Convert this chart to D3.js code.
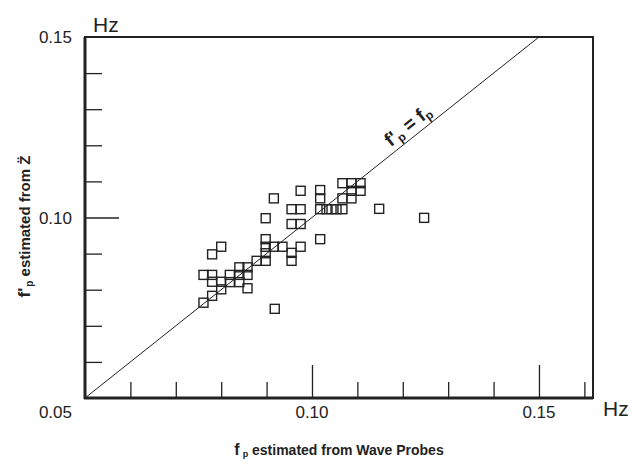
<!DOCTYPE html>
<html><head><meta charset="utf-8">
<script src="https://cdn.jsdelivr.net/npm/d3@7"></script>
<style>body{margin:0;background:#fff}svg{display:block}</style>
</head><body>
<svg id="c" width="633" height="465"></svg>
<script>
// x: f_p estimated from Wave Probes (Hz), y: f'_p estimated from Z'' (Hz)
const fpWaveProbes = [0.0761,0.0780,0.0800,0.0780,0.0800,0.0761,0.0780,0.0819,0.0840,0.0858,
  0.0819,0.0840,0.0858,0.0840,0.0858,0.0800,0.0780,0.0878,0.0898,0.0898,
  0.0898,0.0898,0.0916,0.0935,0.0955,0.0955,0.0975,0.0898,0.0916,0.0955,
  0.0975,0.0975,0.0955,0.0975,0.1018,0.1018,0.1018,0.1018,0.1032,0.1043,
  0.1054,0.1067,0.1067,0.1087,0.1067,0.1087,0.1107,0.1087,0.1107,0.1148,
  0.1247,0.0918];
const fpZdd = [0.0764,0.0783,0.0801,0.0822,0.0822,0.0841,0.0841,0.0841,0.0841,0.0841,
  0.0821,0.0821,0.0804,0.0862,0.0862,0.0919,0.0898,0.0880,0.0880,0.0901,
  0.0919,0.0940,0.0919,0.0919,0.0902,0.0880,0.0919,0.0998,0.1053,0.1023,
  0.1023,0.1074,0.0982,0.0982,0.0940,0.1076,0.1053,0.1023,0.1023,0.1023,
  0.1023,0.1023,0.1053,0.1053,0.1095,0.1095,0.1095,0.1074,0.1074,0.1024,
  0.0999,0.0747];
const xMinorTicks = [0.06,0.07,0.08,0.09,0.11,0.12,0.13,0.14,0.16];
const xMajorTicks = [0.10,0.15];
const yMinorTicks = [0.06,0.07,0.08,0.09,0.11,0.12,0.13,0.14];
const yMajorTicks = [0.10];
const xTickLabels = [0.10,0.15];
const yTickLabels = [0.15,0.10];
const cornerLabel = 0.05;
const unitLabel = "Hz";
const identityLine = [0.05,0.15];

const font = '"Liberation Sans", Arial, Helvetica, sans-serif';
const svg = d3.select("#c");
const x = d3.scaleLinear().domain([0.05,0.1619]).range([85,593]);
const y = d3.scaleLinear().domain([0.05,0.15]).range([398,37]);
const fmt = d3.format(".2f");

// frame
const [x0,x1] = x.range(), [y0,y1] = y.range();
svg.append("rect").attr("x",x0).attr("y",y1).attr("width",x1-x0).attr("height",y0-y1)
  .attr("fill","none").attr("stroke","#222").attr("stroke-width",2);
svg.append("line").attr("x1",x0).attr("x2",x0).attr("y1",y1).attr("y2",y0+1)
  .attr("stroke","#222").attr("stroke-width",3);
svg.append("line").attr("x1",x0-1).attr("x2",x1).attr("y1",y0).attr("y2",y0)
  .attr("stroke","#222").attr("stroke-width",3);

function axisG(axis, tx, ty){
  const g = svg.append("g").attr("transform",`translate(${tx},${ty})`).call(axis);
  g.select(".domain").remove();
  g.selectAll(".tick line").attr("stroke","#222").attr("stroke-width",1.3);
  g.selectAll(".tick text").remove();
  return g;
}
axisG(d3.axisBottom(x).tickValues(xMinorTicks).tickSize(-16), 0, y0);
axisG(d3.axisBottom(x).tickValues(xMajorTicks).tickSize(-33), 0, y0);
axisG(d3.axisLeft(y).tickValues(yMinorTicks).tickSize(-17), x0, 0);
axisG(d3.axisLeft(y).tickValues(yMajorTicks).tickSize(-34), x0, 0);

// tick labels
svg.selectAll("text.xl").data(xTickLabels).join("text").attr("class","xl")
  .attr("x",d=>x(d)).attr("y",418).attr("text-anchor","middle")
  .attr("font-family",font).attr("font-size",17).attr("fill","#222").text(fmt);
svg.selectAll("text.yl").data(yTickLabels).join("text").attr("class","yl")
  .attr("x",72).attr("y",d=>y(d)+6).attr("text-anchor","end")
  .attr("font-family",font).attr("font-size",17).attr("fill","#222").text(fmt);
svg.append("text").attr("x",72).attr("y",418).attr("text-anchor","end")
  .attr("font-family",font).attr("font-size",17).attr("fill","#222").text(fmt(cornerLabel));
svg.append("text").attr("x",93).attr("y",32)
  .attr("font-family",font).attr("font-size",21).attr("fill","#222").text(unitLabel);
svg.append("text").attr("x",603).attr("y",416)
  .attr("font-family",font).attr("font-size",21).attr("fill","#222").text(unitLabel);

// identity line
svg.append("line").attr("x1",x(identityLine[0])).attr("y1",y(identityLine[0]))
  .attr("x2",x(identityLine[1])).attr("y2",y(identityLine[1]))
  .attr("stroke","#222").attr("stroke-width",1);

// equation label along the line
const ang = Math.atan2(y(identityLine[1])-y(identityLine[0]), x(identityLine[1])-x(identityLine[0]))*180/Math.PI;
const lv = 0.1228;
const eq = svg.append("text").attr("transform",`translate(${x(lv)},${y(lv)}) rotate(${ang}) translate(0,-6)`)
  .attr("text-anchor","middle").attr("font-family",font).attr("font-weight","bold")
  .attr("font-size",19).attr("fill","#222");
eq.append("tspan").text("f'");
eq.append("tspan").attr("font-size",12).attr("dy",3).text("p");
eq.append("tspan").attr("dy",-3).text(" = f");
eq.append("tspan").attr("font-size",12).attr("dy",3).text("p");

// points
const pts = fpWaveProbes.map((v,i)=>[v,fpZdd[i]]);
const s = 9;
svg.append("g").selectAll("rect").data(pts).join("rect")
  .attr("x",d=>x(d[0])-s/2).attr("y",d=>y(d[1])-s/2).attr("width",s).attr("height",s)
  .attr("fill","none").attr("stroke","#222").attr("stroke-width",1.4);

// axis titles
const xt = svg.append("text").attr("x",(x0+x1)/2).attr("y",455).attr("text-anchor","middle")
  .attr("font-family",font).attr("font-weight","bold").attr("font-size",14).attr("fill","#222");
xt.append("tspan").attr("font-size",16).text("f");
xt.append("tspan").attr("font-size",9).attr("dx",3).attr("dy",2).text("p");
xt.append("tspan").attr("dy",-2).text(" estimated from Wave Probes");

const yt = svg.append("text").attr("transform",`translate(30,${(y0+y1)/2+9}) rotate(-90)`)
  .attr("text-anchor","middle").attr("font-family",font).attr("font-weight","bold")
  .attr("font-size",15).attr("fill","#222");
yt.append("tspan").attr("font-size",17).text("f'");
yt.append("tspan").attr("font-size",10).attr("dx",1).attr("dy",3).text("p");
yt.append("tspan").attr("dy",-3).text(" estimated from Z\u0308");
</script>
</body></html>
